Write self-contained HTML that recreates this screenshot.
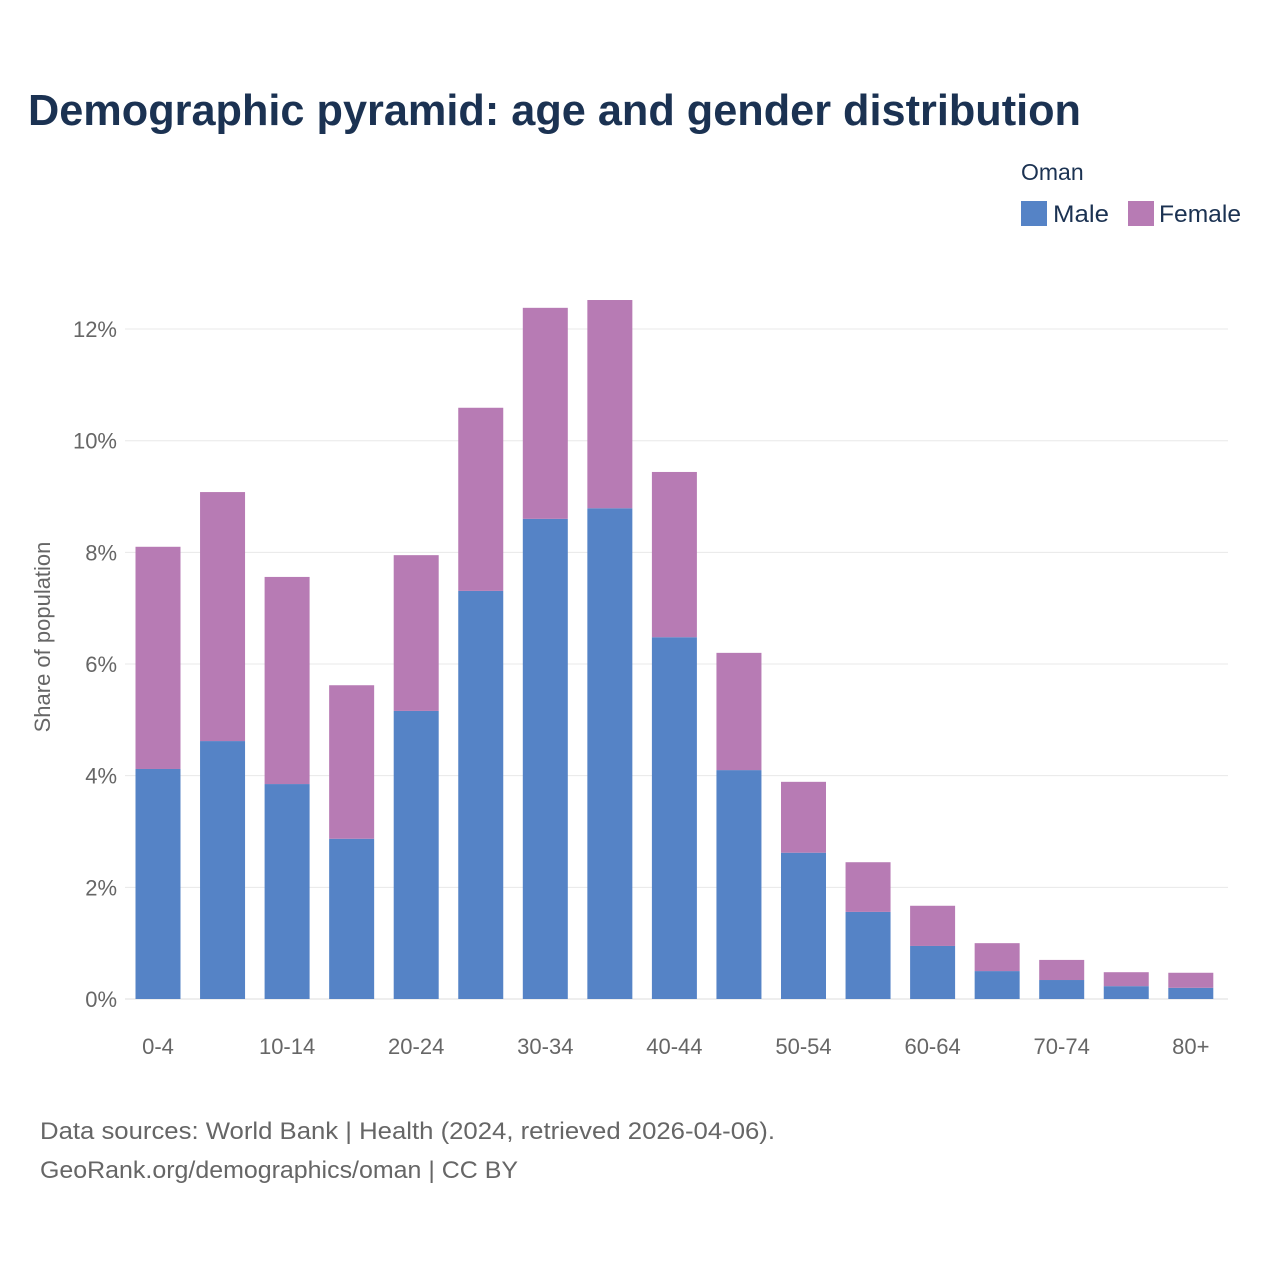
<!DOCTYPE html>
<html><head><meta charset="utf-8"><style>
body{margin:0;background:#fff;font-family:"Liberation Sans",sans-serif}
</style></head><body>
<svg width="1280" height="1280" xmlns="http://www.w3.org/2000/svg" id="chart">
<rect width="1280" height="1280" fill="#fff"/>
<text x="28" y="125" font-size="44" font-weight="bold" fill="#1b3252" textLength="1053" lengthAdjust="spacingAndGlyphs">Demographic pyramid: age and gender distribution</text>
<text x="1021" y="180" font-size="23" fill="#1b3252">Oman</text>
<g><rect x="1021" y="201" width="26" height="25" fill="#5583c6"/><text x="1053" y="222" font-size="24" fill="#1b3252" textLength="56" lengthAdjust="spacingAndGlyphs">Male</text></g>
<g><rect x="1128" y="201" width="26" height="25" fill="#b77bb4"/><text x="1159" y="222" font-size="24" fill="#1b3252" textLength="82" lengthAdjust="spacingAndGlyphs">Female</text></g>
<text transform="translate(50,637) rotate(-90)" text-anchor="middle" font-size="22" fill="#666">Share of population</text>
<g id="grid"></g><g id="bars"></g><g id="xl"></g>
<text x="40" y="1139" font-size="24" fill="#666" textLength="735" lengthAdjust="spacingAndGlyphs">Data sources: World Bank | Health (2024, retrieved 2026-04-06).</text>
<text x="40" y="1178" font-size="24" fill="#666" textLength="478" lengthAdjust="spacingAndGlyphs">GeoRank.org/demographics/oman | CC BY</text>
</svg>
<script>
const categories=["0-4","5-9","10-14","15-19","20-24","25-29","30-34","35-39","40-44","45-49","50-54","55-59","60-64","65-69","70-74","75-79","80+"];
const male=[4.12,4.62,3.85,2.87,5.16,7.31,8.60,8.79,6.48,4.10,2.62,1.56,0.95,0.50,0.34,0.23,0.20];
const female=[3.98,4.46,3.71,2.75,2.79,3.28,3.78,3.73,2.96,2.10,1.27,0.89,0.72,0.50,0.36,0.25,0.27];
const yTicks=[0,2,4,6,8,10,12];
const yTickLabels=["0%","2%","4%","6%","8%","10%","12%"];
const NS="http://www.w3.org/2000/svg";
const y=v=>999-v*55.83;
const x=i=>158+i*64.55;
const bw=45;
function mk(t,a,p){const e=document.createElementNS(NS,t);for(const k in a)e.setAttribute(k,a[k]);p.appendChild(e);return e;}
const g=document.getElementById('grid');
yTicks.forEach((t,i)=>{
 const l=mk('line',{x1:125,x2:1228,y1:y(t),y2:y(t),stroke:i==0?'#ddd':'#e8e8e8','stroke-width':1},g);
 
 
 const tx=mk('text',{x:117,y:y(t)+8,'text-anchor':'end','font-size':22,fill:'#666'},g);
 tx.textContent=yTickLabels[i];
 
 
});
const b=document.getElementById('bars');
categories.forEach((c,i)=>{
 const m=mk('rect',{x:x(i)-bw/2,y:y(male[i]),width:bw,height:y(0)-y(male[i]),fill:'#5583c6'},b);
 
 
 const f=mk('rect',{x:x(i)-bw/2,y:y(male[i]+female[i]),width:bw,height:y(male[i])-y(male[i]+female[i]),fill:'#b77bb4'},b);
 
 
 if(i%2==0){
  const t=mk('text',{x:x(i),y:1054,'text-anchor':'middle','font-size':22,fill:'#666'},document.getElementById('xl'));
  t.textContent=c;
  
  
 }
});
</script>
</body></html>
